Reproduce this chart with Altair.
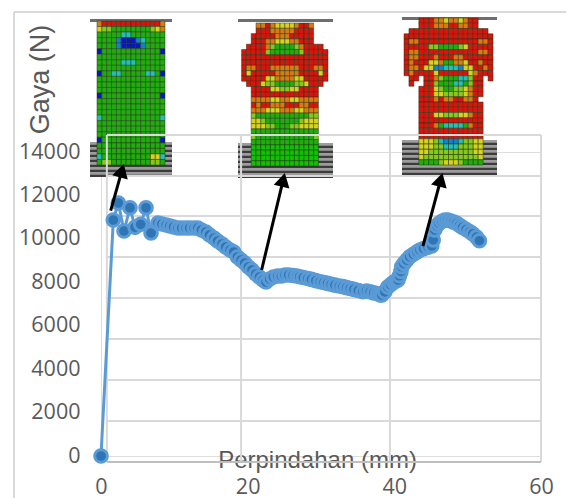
import math
import altair as alt
import pandas as pd

# Reaction force curve
disp = [0, 1.68, 2.36, 3.14, 3.95, 4.64, 5.41, 6.14, 6.82, 7.77, 8.3, 8.9, 9.4, 9.9, 10.5, 11.0, 11.6, 12.1, 12.7, 13.2,
        13.7, 14.3, 14.8, 15.4, 15.9, 16.5, 17.0, 17.6, 18.1, 18.6, 19.1, 19.6, 20.1, 20.6, 21.1, 21.6, 22.1, 22.5,
        23.0, 23.5, 24.1, 24.6, 25.1, 25.6, 26.2, 26.7, 27.1, 27.6, 28.2, 28.7, 29.3, 29.9, 30.4, 30.9, 31.4, 31.9,
        32.5, 33.0, 33.5, 34.0, 34.5, 35.1, 35.7, 36.2, 36.7, 37.2, 37.7, 38.1, 38.3, 38.7, 39.1, 39.5, 39.9, 40.2, 40.5,
        40.7, 40.9, 41.0, 41.3, 41.7, 42.1, 42.6, 43.1, 43.5, 44.0, 44.6, 45.1, 45.3, 45.5, 45.8, 46.1, 46.5, 46.9, 47.3,
        47.7, 48.1, 48.5, 48.9, 49.3, 49.8, 50.3, 50.7, 51.2, 51.6]
force = [0, 10868, 11651, 10361, 11434, 10532, 10670, 11434, 10269, 10730, 10684, 10638, 10592, 10546, 10500, 10500, 10500, 10500, 10500, 10500,
         10407, 10315, 10177, 10039, 9900, 9763, 9624, 9486, 9394, 9164, 9026, 8888, 8703, 8565, 8381, 8243, 8105, 8013,
         8151, 8243, 8289, 8289, 8335, 8335, 8312, 8289, 8257, 8220, 8175, 8135, 8075, 8026, 7990, 7950, 7910, 7870,
         7830, 7797, 7755, 7715, 7675, 7620, 7566, 7600, 7560, 7510, 7470, 7420, 7414, 7560, 7780, 7890, 8000, 8060, 8105,
         8300, 8500, 8717, 8860, 9020, 9178, 9290, 9400, 9486, 9550, 9620, 9670, 9950, 10407, 10600, 10720, 10810, 10868, 10860,
         10820, 10770, 10716, 10620, 10530, 10430, 10329, 10230, 10080, 9915]

x_ticks = [0, 20, 40, 60]
y_ticks = [0, 2000, 4000, 6000, 8000, 10000, 12000, 14000]
grid_x = [0.8, 19.1, 39.4, 60]
grid_y = [14783, 12895, 11053, 9165, 7276, 5388, 3500, 1612]
axis_line_y = -276
frame_x = [-11.86, 63.8]
frame_top = 20446
frame_bottom = -2000

arrow_start_x = [1.32, 21.9, 43.9]
arrow_start_y = [11296, 8565, 9670]
arrow_tip_x = [3.14, 25.1, 46.6]
arrow_tip_y = [13493, 13078, 13078]

# FEA specimen illustrations: one letter per mesh cell
PALETTE = {"R": "#d8140c", "O": "#dc7a12", "Y": "#d8d21e", "L": "#86c81e", "G": "#22ac10", "g": "#12c004",
           "C": "#22c0b8", "M": "#1480d0", "B": "#0a16c0"}
spec1 = ["ORRRRRRRRRRRRO", "YLLGGGGGGGGLYO", "GGGGGCCGGGGGGG", "GGGGMBBBMCGGGG", "GGGGMBBBBMGGGG", "BGGGGGGGGGGGGB",
         "GGGGGGGGGGGGGG", "GGGGGCCCGGGGGG", "GGGGGGGGGGGGGG", "BGGCCGGGGGCCGB", "GGGGGGGGGGGGGG", "GGGGGGGGGGGGGG",
         "GGGGGGGGGGGGGG", "BGGGGGGGGGGGGB", "GGGGGGGGGGGGGG", "GGGGGGGGGGGGGG", "GGGGGGGGGGGGGG", "CGGGGGGGGGGGGC",
         "GGGGGGGGGGGGGG", "GGGGGGGGGGGGGG", "GGGGGGGGGGGGGG", "BGGGGGGGGGGGGB", "GGGGGGGGGGGGGG", "GGGGGGGGGGGGGG",
         "CGGGGGGGGGGYYC", "GLLGGGGGGGGLLG"]
spec2 = ["   OOROYYYYORRO   ", "   RRROOOOORRRR   ", "  RRRRROOORRRRR   ", "  RRROOYYYOORRR   ", " RRRROLGGGGLORRRR ",
         "RRRRRLGGGGGGLRRRRR", "RRRRRRRRRRRRRRRRRR", "RRRRRRRRRRRRRRRRRR", "ROORRROOOOOORRROOR", "RYRRRRROOOOORRRRYR",
         "RRRRRYYOOOOYYRRRRR", " RRRYLLGGGGLLYRRR ", "  RRRRYYLLYYRRRR  ", "  RRRRRRRRRRRRRR  ", "  OOOOYYOOYYOOOO  ",
         "  RORROOORRROORR  ", "  OOOYYYOOOYYOOO  ", "  LGGGGGGGGGGGLL  ", "  YYLGGGGGGGLYYY  ", "  YYYLLGGGLLYYYY  ",
         "  GGGGGGGGGGGGGG  ", "  LGGGGGGGGGGGGL  ", "  GGGGGGGGGGGGGG  ", "  gggggggggggggg  ", "  gggggggggggggg  ",
         "  gggggggggggggg  ", "  gggggggggggggg  "]
spec3 = ["   RRROOYOOYORR   ", "   RRROOORROORR   ", " RRRRRRRRRRRRRRRR ", "RRRRRRRRRRRRRRRRRR", "ROORRRRRRRRRRRROOR",
         "RRRRRLLGGGGLYRRRRR", "ROORRRRRRRRRRRROOR", "ROORRRORRROORRRRRR", "RORRRYYOGGOOYRRORR", "ROORYYMMCCCMYYRROR",
         "RORRRRYRRRRRRYORRR", " RR RROLGGGCCLRR R", " R  RRLGGGCCGLRR  ", "   RRRYLGGLLYORR  ", "   RRRYYLLLLYORR  ",
         "   RRROROORROOR   ", "   RRRRRRRRRRRRR  ", "   RRRRRRRRRRRRR  ", "   RRRYYLLLYYORR  ", "   RRRRRRRRRRRRR  ",
         "   RRROGCCCCGORR  ", "   RRRRRRRRRRRRR  ", "   RRRRRRRRRRRRR  ", "   YYYLCMMMCLLYY  ", "   YYYLLCCCLLLYY  ",
         "   YYLLLLLLLLLYY  ", "   YLLLLLLLLLLLY  ", "   GGGGLYYYLGGGG  "]

WIDTH, HEIGHT = 440, 304
PAD = dict(left=93, top=144, right=25, bottom=42)


def dx(px):
    return (px - 101) / WIDTH * 60


def dy(py):
    return (456 - py) / HEIGHT * 14000


def cells(rows, x0, x1, y0, y1):
    out = []
    w = (x1 - x0) / max(len(r) for r in rows)
    h = (y1 - y0) / len(rows)
    for i, row in enumerate(rows):
        for j, c in enumerate(row):
            if c != " ":
                out.append(dict(x=dx(x0 + j * w), x2=dx(x0 + (j + 1) * w), y=dy(y0 + i * h), y2=dy(y0 + (i + 1) * h), c=PALETTE[c]))
    return out


def plate(x0, x1, y0, y1, top):
    out = [dict(x=dx(x0), x2=dx(x1), y=dy(top), y2=dy(top + 3), c="#6e6e6e")]
    k, y = 0, y0
    while y < y1:
        out.append(dict(x=dx(x0), x2=dx(x1), y=dy(y), y2=dy(y + 2.5), c="#3c3c3c" if k % 2 else "#9c9c9c"))
        y += 2.5
        k += 1
    return out


X = alt.X("x:Q", scale=alt.Scale(domain=[0, 60], nice=False),
          axis=alt.Axis(values=x_ticks, format="d", grid=False, domain=False, ticks=False, labelFont="Open Sans", labelFontSize=21.5,
                        labelColor="#595959", labelPadding=20, title="Perpindahan (mm)", titleFont="Liberation Sans",
                        titleFontSize=24, titleFontWeight="normal", titleColor="#595959", titleX=216, titleY=4,
                        titleBaseline="middle", titleAnchor="middle", labelFlush=False))
Y = alt.Y("y:Q", scale=alt.Scale(domain=[0, 14000], nice=False),
          axis=alt.Axis(values=y_ticks, format="d", grid=False, domain=False, ticks=False, labelFont="Open Sans", labelFontSize=21.5,
                        labelColor="#595959", labelPadding=21, title="Gaya (N)", titleFont="Liberation Sans",
                        titleFontSize=27, titleFontWeight="normal", titleColor="#595959", titleX=-61, titleY=-73,
                        titleBaseline="middle", titleAnchor="middle"))

curve = pd.DataFrame({"x": disp, "y": force})
line = alt.Chart(curve).mark_line(color="#5b9bd5", strokeWidth=3).encode(x=X, y=Y)
points = alt.Chart(curve).transform_window(i="row_number()").mark_point(
    filled=True, shape="circle", size=160, fill="#2e75b6", stroke="#5b9bd5", strokeWidth=3, opacity=1, fillOpacity=1
).encode(x=X, y=Y, order=alt.Order("i:Q"))

frame = pd.DataFrame([
    dict(x=frame_x[0], x2=frame_x[0], y=frame_bottom, y2=frame_top),
    dict(x=frame_x[1], x2=frame_x[1], y=frame_bottom, y2=frame_top),
    dict(x=frame_x[0], x2=frame_x[1], y=frame_top, y2=frame_top),
])
frame_layer = alt.Chart(frame).mark_rule(color="#d9d9d9", strokeWidth=2).encode(x=X, x2="x2:Q", y=Y, y2="y2:Q")

plates = plate(90, 172, 142, 175, 19) + plate(238, 333, 143, 178, 19) + plate(402, 497, 140, 175, 17)
plate_layer = alt.Chart(pd.DataFrame(plates)).mark_rect().encode(x=X, x2="x2:Q", y=Y, y2="y2:Q", fill=alt.Fill("c:N", scale=None))

mesh = cells(spec1, 97, 165, 21, 165) + cells(spec2, 241.6, 328, 23, 166) + cells(spec3, 404, 493, 18, 165)
mesh_layer = alt.Chart(pd.DataFrame(mesh)).mark_rect(stroke="#1c3414", strokeWidth=0.6, strokeOpacity=0.8).encode(
    x=X, x2="x2:Q", y=Y, y2="y2:Q", fill=alt.Fill("c:N", scale=None))

gv = pd.DataFrame({"x": grid_x, "x2": grid_x, "y": [axis_line_y] * 4, "y2": [grid_y[0]] * 4})
gh = pd.DataFrame({"x": [grid_x[0]] * 8, "x2": [grid_x[-1]] * 8, "y": grid_y, "y2": grid_y})
gb = pd.DataFrame({"x": [grid_x[0]], "x2": [grid_x[-1]], "y": [axis_line_y], "y2": [axis_line_y]})
grid_v = alt.Chart(gv).mark_rule(color="#d9d9d9", strokeWidth=2).encode(x=X, x2="x2:Q", y=Y, y2="y2:Q")
grid_h = alt.Chart(gh).mark_rule(color="#d9d9d9", strokeWidth=2).encode(x=X, x2="x2:Q", y=Y, y2="y2:Q")
grid_b = alt.Chart(gb).mark_rule(color="#bfbfbf", strokeWidth=2).encode(x=X, x2="x2:Q", y=Y, y2="y2:Q")

sx, sy = WIDTH / 60, HEIGHT / 14000
shafts, heads = [], []
for a, b, c, d in zip(arrow_start_x, arrow_start_y, arrow_tip_x, arrow_tip_y):
    vx, vy = (c - a) * sx, (d - b) * sy
    ln = math.hypot(vx, vy)
    hx, hy = c - vx / ln * 8 / sx, d - vy / ln * 8 / sy
    shafts.append(dict(x=a, y=b, x2=hx, y2=hy))
    heads.append(dict(x=hx, y=hy, a=math.degrees(math.atan2(vx, vy))))
shaft = alt.Chart(pd.DataFrame(shafts)).mark_rule(color="black", strokeWidth=3).encode(x=X, x2="x2:Q", y=Y, y2="y2:Q")
head = alt.Chart(pd.DataFrame(heads)).mark_point(shape="triangle-up", filled=True, size=260, color="black", opacity=1).encode(
    x=X, y=Y, angle=alt.Angle("a:Q", scale=None))

chart = alt.layer(frame_layer, plate_layer, mesh_layer, grid_v, grid_h, grid_b, line, points, shaft, head).properties(
    width=WIDTH, height=HEIGHT, padding=PAD, autosize=alt.AutoSizeParams(type="none")
).configure_view(stroke=None).configure(background="white")
chart.save("out.html", embed_options={"renderer": "svg", "actions": False})
